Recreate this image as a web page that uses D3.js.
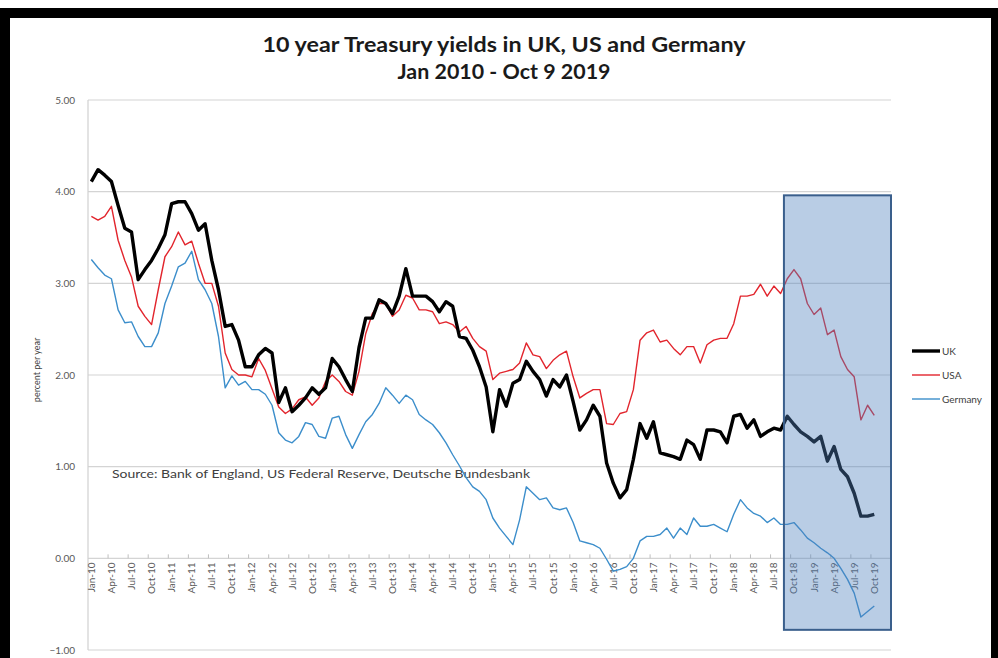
<!DOCTYPE html>
<html>
<head>
<meta charset="utf-8">
<script src="https://cdn.jsdelivr.net/npm/d3@7"></script>
<style>
  html, body { margin: 0; padding: 0; background: #fff; }
  svg { display: block; }
</style>
</head>
<body>
<div id="chart"></div>
<script>
// 10 year government bond yields — UK, US, Germany
// Monthly points, Jan 2010 .. Oct 2019, category axis runs on to Dec-19.

// ── Data ──────────────────────────────────────────────────────────────────

const monthNames = ['Jan', 'Feb', 'Mar', 'Apr', 'May', 'Jun', 'Jul', 'Aug', 'Sep', 'Oct', 'Nov', 'Dec'];
const years      = ['10', '11', '12', '13', '14', '15', '16', '17', '18', '19'];
const categories = years.flatMap(y => monthNames.map(m => `${m}-${y}`));

const uk = [
  4.11, 4.24, 4.18, 4.11, 3.85, 3.60, 3.56, 3.04, 3.15, 3.25, 3.38, 3.53,
  3.87, 3.89, 3.89, 3.76, 3.58, 3.65, 3.25, 2.93, 2.53, 2.55, 2.38, 2.09,
  2.09, 2.22, 2.29, 2.24, 1.70, 1.86, 1.60, 1.67, 1.75, 1.86, 1.79, 1.86,
  2.18, 2.09, 1.95, 1.82, 2.30, 2.62, 2.62, 2.82, 2.78, 2.67, 2.86, 3.16,
  2.86, 2.86, 2.86, 2.80, 2.69, 2.80, 2.75, 2.42, 2.40, 2.27, 2.09, 1.87,
  1.38, 1.84, 1.66, 1.91, 1.95, 2.15, 2.04, 1.95, 1.77, 1.95, 1.87, 2.00,
  1.71, 1.40, 1.51, 1.67, 1.55, 1.04, 0.82, 0.66, 0.75, 1.08, 1.47, 1.31,
  1.49, 1.15, 1.13, 1.11, 1.08, 1.29, 1.24, 1.08, 1.40, 1.40, 1.38, 1.26,
  1.55, 1.57, 1.42, 1.51, 1.33, 1.38, 1.42, 1.40, 1.55, 1.46, 1.38, 1.33,
  1.27, 1.33, 1.06, 1.22, 0.97, 0.89, 0.71, 0.46, 0.46, 0.48
];

const usa = [
  3.73, 3.69, 3.73, 3.84, 3.47, 3.25, 3.07, 2.75, 2.64, 2.55, 2.93, 3.29,
  3.40, 3.56, 3.42, 3.46, 3.22, 3.00, 3.00, 2.75, 2.24, 2.06, 2.00, 2.00,
  1.98, 2.18, 2.05, 1.85, 1.65, 1.58, 1.63, 1.73, 1.76, 1.67, 1.75, 1.93,
  2.00, 1.93, 1.82, 1.78, 2.04, 2.45, 2.67, 2.78, 2.78, 2.64, 2.71, 2.87,
  2.84, 2.71, 2.71, 2.69, 2.56, 2.58, 2.55, 2.47, 2.53, 2.40, 2.31, 2.26,
  1.95, 2.02, 2.04, 2.06, 2.13, 2.35, 2.22, 2.20, 2.07, 2.16, 2.22, 2.26,
  1.98, 1.75, 1.80, 1.84, 1.84, 1.47, 1.46, 1.58, 1.60, 1.84, 2.38, 2.46,
  2.49, 2.36, 2.38, 2.29, 2.22, 2.31, 2.31, 2.13, 2.33, 2.38, 2.40, 2.40,
  2.56, 2.86, 2.86, 2.88, 2.99, 2.86, 2.97, 2.89, 3.05, 3.15, 3.05, 2.78,
  2.66, 2.73, 2.44, 2.49, 2.20, 2.06, 1.98, 1.51, 1.67, 1.56
];

const germany = [
  3.26, 3.17, 3.09, 3.05, 2.71, 2.57, 2.58, 2.42, 2.31, 2.31, 2.46, 2.78,
  2.97, 3.18, 3.22, 3.35, 3.04, 2.93, 2.78, 2.42, 1.86, 1.99, 1.89, 1.93,
  1.84, 1.84, 1.79, 1.67, 1.37, 1.29, 1.26, 1.33, 1.48, 1.46, 1.33, 1.31,
  1.53, 1.55, 1.35, 1.20, 1.35, 1.49, 1.57, 1.69, 1.86, 1.78, 1.69, 1.78,
  1.73, 1.57, 1.51, 1.46, 1.37, 1.26, 1.13, 1.01, 0.88, 0.78, 0.73, 0.64,
  0.44, 0.33, 0.24, 0.15, 0.42, 0.78, 0.71, 0.64, 0.66, 0.55, 0.53, 0.55,
  0.39, 0.19, 0.17, 0.15, 0.11, -0.01, -0.14, -0.12, -0.09, 0.00, 0.19, 0.24,
  0.24, 0.26, 0.33, 0.22, 0.33, 0.26, 0.44, 0.35, 0.35, 0.37, 0.33, 0.29,
  0.48, 0.64, 0.55, 0.49, 0.46, 0.39, 0.44, 0.37, 0.37, 0.39, 0.31, 0.22,
  0.17, 0.11, 0.06, 0.00, -0.11, -0.23, -0.38, -0.64, -0.58, -0.52
];

const seriesNames  = ['UK', 'USA', 'Germany'];
const yTickValues  = [-1, 0, 1, 2, 3, 4, 5];
const labelEvery   = 3;              // one x label per quarter
const shadeFrom    = 'Sep-18';       // highlighted window, to the right edge
const shadeRange   = [-0.78, 3.96];

// ── Layout ────────────────────────────────────────────────────────────────

const W = 998, H = 658;
const plot = { left: 88, right: 891, top: 100, bottom: 650 };
const colors = { UK: '#000000', USA: '#e2252d', Germany: '#3c8ecb' };
const widths = { UK: 3.4, USA: 1.4, Germany: 1.4 };
const series = { UK: uk, USA: usa, Germany: germany };

const svg = d3.select('#chart').append('svg')
  .attr('width', W).attr('height', H)
  .style('font-family', 'Lato, "Open Sans", sans-serif');

// Black frame of the screenshot
svg.append('rect').attr('x', 0).attr('y', 8).attr('width', W).attr('height', H - 8).attr('fill', '#000');
svg.append('rect').attr('x', 10).attr('y', 18).attr('width', 981).attr('height', H - 18).attr('fill', '#fff');

const x = d3.scaleBand().domain(categories).range([plot.left, plot.right]).padding(0);
const y = d3.scaleLinear().domain([-1, 5]).range([plot.bottom, plot.top]);
const cx = c => x(c) + x.bandwidth() / 2;

// Title
const title = svg.append('g').attr('fill', '#1a1a1a').attr('font-weight', 700)
  .attr('text-anchor', 'middle').attr('font-size', 20);
title.append('text').attr('x', 504).attr('y', 52)
  .attr('textLength', 483).attr('lengthAdjust', 'spacingAndGlyphs')
  .text('10 year Treasury yields in UK, US and Germany');
title.append('text').attr('x', 504).attr('y', 79)
  .attr('textLength', 213).attr('lengthAdjust', 'spacingAndGlyphs')
  .text('Jan 2010 - Oct 9 2019');

// Grid + y labels
const gGrid = svg.append('g');
gGrid.selectAll('line').data(yTickValues).join('line')
  .attr('x1', plot.left).attr('x2', plot.right)
  .attr('y1', d => y(d)).attr('y2', d => y(d))
  .attr('stroke', '#d4d4d4').attr('stroke-width', 1.2);

svg.append('g').attr('font-size', 10).attr('fill', '#595959').attr('text-anchor', 'end')
  .selectAll('text').data(yTickValues).join('text')
  .attr('x', 75).attr('y', d => y(d)).attr('dy', '0.35em')
  .text(d => d3.format('.2f')(d));

// Left axis line
svg.append('line').attr('x1', plot.left).attr('x2', plot.left)
  .attr('y1', plot.top).attr('y2', plot.bottom)
  .attr('stroke', '#d0d0d0').attr('stroke-width', 1.2);

// Tick marks on the zero line, one per quarter
const tickCats = categories.filter((c, i) => i % labelEvery === 0 && i > 0);
svg.append('g').selectAll('line').data(tickCats).join('line')
  .attr('x1', d => x(d)).attr('x2', d => x(d))
  .attr('y1', y(0) - 4).attr('y2', y(0))
  .attr('stroke', '#bfbfbf');

// X labels, rotated
const labelCats = categories.filter((c, i) => i % labelEvery === 0 && i < uk.length);
svg.append('g').attr('font-size', 10).attr('fill', '#595959')
  .selectAll('text').data(labelCats).join('text')
  .attr('transform', d => `translate(${cx(d)},${y(0) + 4}) rotate(-90)`)
  .attr('text-anchor', 'end').attr('dy', '0.35em')
  .text(d => d);

// Y axis title
svg.append('text')
  .attr('transform', 'translate(37,370) rotate(-90)')
  .attr('text-anchor', 'middle').attr('dy', '0.35em')
  .attr('font-size', 9).attr('fill', '#404040')
  .text('percent per year');

// Source note
svg.append('text').attr('x', 112).attr('y', 478)
  .attr('font-size', 12).attr('fill', '#404040')
  .attr('textLength', 418).attr('lengthAdjust', 'spacingAndGlyphs')
  .text('Source: Bank of England, US Federal Reserve, Deutsche Bundesbank');

// Lines
const gLines = svg.append('g');
['Germany', 'USA', 'UK'].forEach(name => {
  const line = d3.line()
    .x((d, i) => cx(categories[i]))
    .y(d => y(d));
  gLines.append('path')
    .datum(series[name])
    .attr('d', line)
    .attr('fill', 'none')
    .attr('stroke', colors[name])
    .attr('stroke-width', widths[name])
    .attr('stroke-linejoin', 'round');
});

// Highlighted window (semi-transparent, sits over the lines)
svg.append('rect')
  .attr('x', x(shadeFrom)).attr('y', y(shadeRange[1]))
  .attr('width', plot.right - x(shadeFrom))
  .attr('height', y(shadeRange[0]) - y(shadeRange[1]))
  .attr('fill', '#4f81bd').attr('fill-opacity', 0.4)
  .attr('stroke', '#3a5f8c').attr('stroke-width', 2);

// Legend
const legend = svg.append('g').attr('font-size', 10).attr('fill', '#404040');
seriesNames.forEach((name, i) => {
  const ly = 351 + i * 24;
  legend.append('line').attr('x1', 912).attr('x2', 940).attr('y1', ly).attr('y2', ly)
    .attr('stroke', colors[name]).attr('stroke-width', widths[name]);
  legend.append('text').attr('x', 942).attr('y', ly).attr('dy', '0.35em').text(name);
});
</script>
</body>
</html>
